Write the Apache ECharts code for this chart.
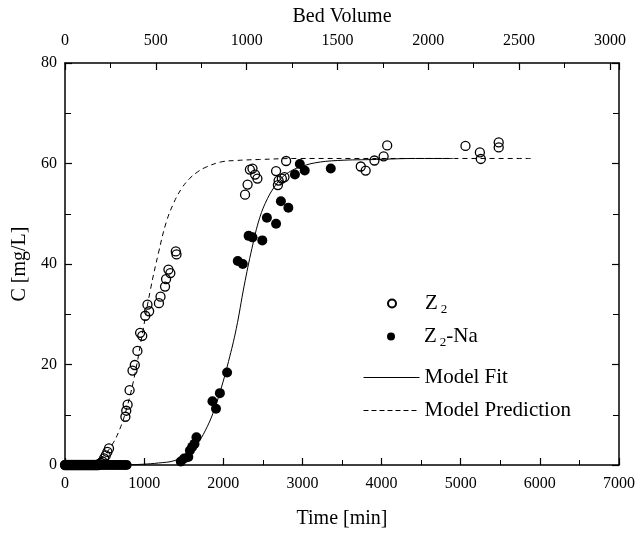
<!DOCTYPE html>
<html>
<head>
<meta charset="utf-8">
<script src="https://cdn.jsdelivr.net/npm/echarts@6/dist/echarts.min.js"></script>
<style>
html,body{margin:0;padding:0;background:#fff;}
#chart{width:638px;height:534px;}
</style>
</head>
<body>
<div id="chart"></div>
<script>
// Z2 (open circles): time [min], C [mg/L]
const z2Time = [0,20,40,60,80,100,120,140,160,180,200,220,240,260,280,300,320,340,360,380,400,420,433,453,473,494,515,536,556,
  763,774,791,816,853,882,915,949,976,1014,1042,1063,1187,1207,1264,1277,1307,1331,1400,1409,
  2275,2307,2336,2369,2402,2431,2667,2690,2699,2740,2773,2794,
  3737,3799,3910,4026,4071,5060,5242,5254,5480,5480];
const z2C = [0,0,0,0,0,0,0,0,0,0,0,0,0,0,0,0,0,0,0,0,0,0,0.2,0.4,0.7,1.3,1.9,2.6,3.3,
  9.6,10.8,12.0,14.9,18.8,19.9,22.7,26.3,25.7,29.7,31.9,30.6,32.2,33.5,35.5,37.0,38.9,38.2,42.5,41.9,
  53.8,55.8,58.8,59.0,57.8,57.0,58.5,55.7,56.6,57.0,57.3,60.5,
  59.4,58.6,60.6,61.4,63.6,63.5,62.2,60.9,64.2,63.2];

// Z2-Na (filled circles)
const z2NaTime = [0,30,60,90,120,150,180,210,240,270,300,330,360,390,420,450,480,510,540,570,600,630,660,690,720,750,779,
  1463,1505,1558,1578,1607,1636,1661,1863,1908,1957,2048,2183,2246,2320,2369,2493,2551,2667,2728,2822,2905,2967,3029,3358];
const z2NaC = [0,0,0,0,0,0,0,0,0,0,0,0,0,0,0,0,0,0,0,0,0,0,0,0,0,0,0,
  0.7,1.3,1.6,2.9,3.6,4.2,5.5,12.7,11.2,14.3,18.4,40.6,40.0,45.6,45.3,44.7,49.2,48.0,52.5,51.2,57.8,59.9,58.6,59.0];

// Model Fit (solid line)
const fitTime = [0,590,787,984,1181,1378,1574,1673,1771,1870,1968,2066,2165,2263,2362,2460,2558,2657,2755,2854,2952,3149,3444,3936,4428,4900];
const fitC = [0,0,0.05,0.15,0.4,0.85,2.3,4.2,6.8,10.3,15,20.6,27.2,35.6,43.1,49.2,53,55.6,57.4,58.5,59.2,60.1,60.6,60.8,61,61];

// Model Prediction (dashed line)
const predTime = [0,197,295,394,492,590,689,787,886,984,1082,1181,1279,1378,1476,1574,1673,1771,1968,2165,2460,2952,3936,4920,5900];
const predC = [0,0.1,0.3,0.85,1.9,3.9,7.0,11.7,18.3,26.7,35.1,42.2,48.3,52.3,55.1,57,58.3,59.2,60.3,60.6,60.8,61,61,61,61];

// Tick labels
const timeTicks = [0,1000,2000,3000,4000,5000,6000,7000];
const bedTicks = [0,500,1000,1500,2000,2500,3000];
const cTicks = [0,20,40,60,80];

const zip = (a, b) => a.map((v, i) => [v, b[i]]);
const FONT = 'Liberation Serif';
const plain = v => String(v);

const tickCommon = {
  axisLine: {show: true, onZero: false, lineStyle: {color: '#000', width: 1.5}},
  axisTick: {show: true, inside: true, length: 7, lineStyle: {color: '#000', width: 1.2}},
  splitLine: {show: false}
};

const legendRich = {
  t: {fontFamily: FONT, fontSize: 21, color: '#000'},
  s: {fontFamily: FONT, fontSize: 13, color: '#000', padding: [12, 0, 0, 3]}
};
function legendFmt(name) {
  if (name === 'Z2') return '{t|Z}{s|2}';
  if (name === 'Z2-Na') return '{t|Z}{s|2}{t|-Na}';
  return '{t|' + name + '}';
}
function mkLegend(name, top, isSymbol, dashed) {
  const lg = {
    orient: 'vertical', left: isSymbol ? 387 : 363, top: top, padding: 0,
    itemWidth: isSymbol ? 8 : 56, itemHeight: 8, itemGap: 0,
    data: [name], formatter: legendFmt,
    textStyle: {fontFamily: FONT, fontSize: 21, color: '#000', rich: legendRich,
      padding: isSymbol ? [0, 0, 0, 24] : 0}
  };
  if (!isSymbol) {
    lg.itemStyle = {opacity: 0, color: 'rgba(0,0,0,0)', borderWidth: 0};
    lg.lineStyle = {width: 1, color: '#000', type: dashed ? [5, 3] : 'solid'};
  }
  return lg;
}

const chart = echarts.init(document.getElementById('chart'), null, {renderer: 'canvas'});
chart.setOption({
  animation: false,
  backgroundColor: '#fff',
  grid: {left: 65, right: 7, top: 63, bottom: 63},
  textStyle: {fontFamily: FONT, color: '#000'},
  xAxis: [Object.assign({
    type: 'value', min: timeTicks[0], max: timeTicks[timeTicks.length - 1], interval: 1000, position: 'bottom',
    name: 'Time [min]', nameLocation: 'middle', nameGap: 44,
    nameTextStyle: {fontFamily: FONT, fontSize: 20, color: '#000'},
    minorTick: {show: true, splitNumber: 2, length: 5, lineStyle: {color: '#000', width: 1}},
    axisLabel: {fontFamily: FONT, fontSize: 16, color: '#000', margin: 11, formatter: plain}
  }, tickCommon), Object.assign({
    type: 'value', min: bedTicks[0], max: 3050, interval: 500, position: 'top',
    name: 'Bed Volume', nameLocation: 'middle', nameGap: 36,
    nameTextStyle: {fontFamily: FONT, fontSize: 20, color: '#000'},
    minorTick: {show: true, splitNumber: 2, length: 5, lineStyle: {color: '#000', width: 1}},
    axisLabel: {fontFamily: FONT, fontSize: 16, color: '#000', margin: 14, showMaxLabel: false,
      formatter: v => (bedTicks.indexOf(v) >= 0 ? String(v) : '')}
  }, tickCommon)],
  yAxis: [Object.assign({
    type: 'value', min: cTicks[0], max: cTicks[cTicks.length - 1], interval: 20, position: 'left',
    name: 'C [mg/L]', nameLocation: 'middle', nameGap: 26, nameRotate: 90,
    nameTextStyle: {fontFamily: FONT, fontSize: 20, color: '#000'},
    minorTick: {show: true, splitNumber: 2, length: 6, lineStyle: {color: '#000', width: 1}},
    axisLabel: {fontFamily: FONT, fontSize: 16, color: '#000', margin: 8, formatter: plain}
  }, tickCommon), Object.assign({
    type: 'value', min: cTicks[0], max: cTicks[cTicks.length - 1], interval: 20, position: 'right',
    minorTick: {show: true, splitNumber: 2, length: 6, lineStyle: {color: '#000', width: 1}},
    axisLabel: {show: false}
  }, tickCommon)],
  legend: [mkLegend('Z2', 293, true), mkLegend('Z2-Na', 326, true),
           mkLegend('Model Fit', 367, false, false), mkLegend('Model Prediction', 400, false, true)],
  series: [{
    name: 'Model Prediction', type: 'line', smooth: 0.4, symbol: 'none', showSymbol: false,
    xAxisIndex: 0, yAxisIndex: 0,
    lineStyle: {color: '#000', width: 1, type: [5, 4]},
    itemStyle: {color: '#000'},
    data: zip(predTime, predC), z: 1
  }, {
    name: 'Model Fit', type: 'line', smooth: 0.4, symbol: 'none', showSymbol: false,
    xAxisIndex: 0, yAxisIndex: 0,
    lineStyle: {color: '#000', width: 1},
    itemStyle: {color: '#000'},
    data: zip(fitTime, fitC), z: 2
  }, {
    name: 'Z2', type: 'scatter', symbol: 'circle', symbolSize: 9,
    xAxisIndex: 0, yAxisIndex: 0,
    itemStyle: {color: 'rgba(255,255,255,0)', borderColor: '#000', borderWidth: 1.3, opacity: 1},
    data: zip(z2Time, z2C), z: 3
  }, {
    name: 'Z2-Na', type: 'scatter', symbol: 'circle', symbolSize: 10,
    xAxisIndex: 0, yAxisIndex: 0,
    itemStyle: {color: '#000', opacity: 1},
    data: zip(z2NaTime, z2NaC), z: 4
  }]
});
</script>
</body>
</html>
